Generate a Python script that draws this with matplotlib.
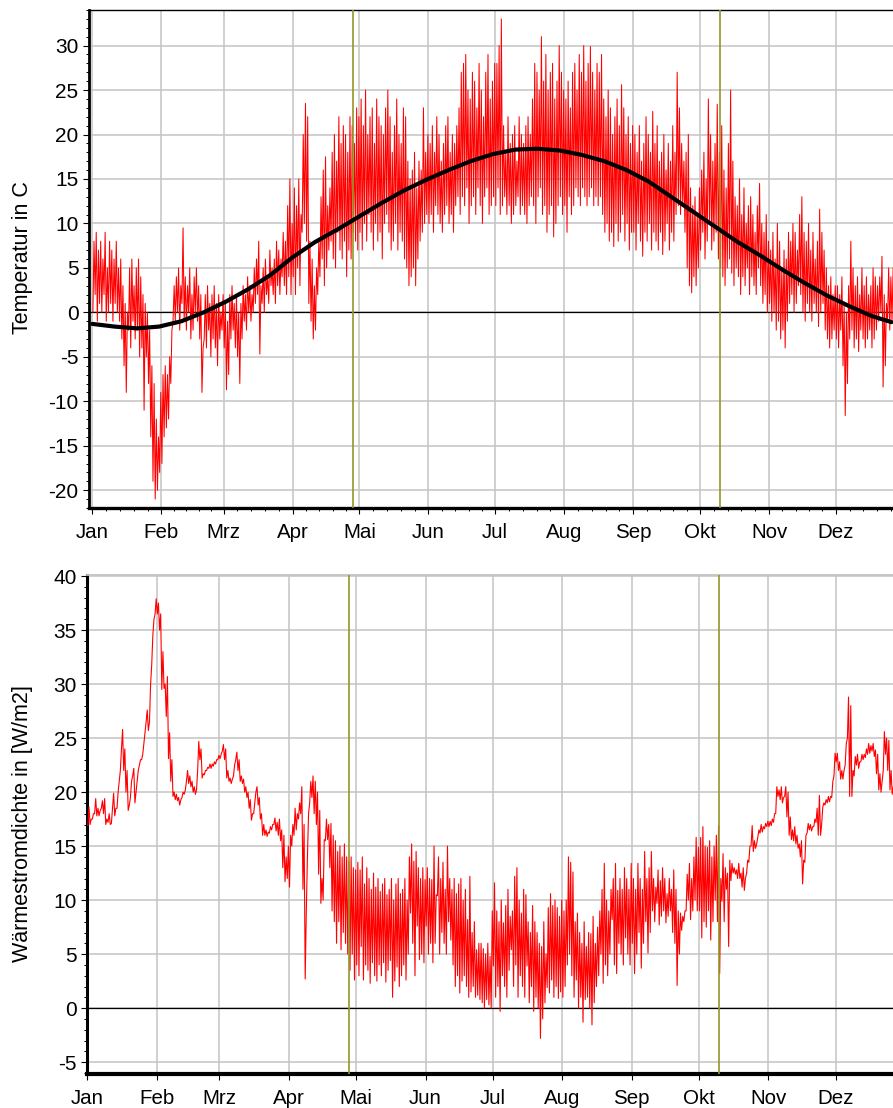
import matplotlib.pyplot as plt
import numpy as np
from matplotlib.ticker import MultipleLocator, FixedLocator

plt.rcParams['font.family'] = ['Liberation Sans', 'DejaVu Sans']
plt.rcParams['axes.unicode_minus'] = False

# --- calendar ---
months = ['Jan', 'Feb', 'Mrz', 'Apr', 'Mai', 'Jun', 'Jul', 'Aug', 'Sep', 'Okt', 'Nov', 'Dez']
month_start = [0, 31, 59, 90, 120, 151, 181, 212, 243, 273, 304, 334]
month_len = [31, 28, 31, 30, 31, 30, 31, 31, 30, 31, 30, 31]

# --- daily max / min air temperature [C] (day 0 = 1 Jan) ---
temp_hi = (
    [8, 9, 7, 8, 6, 9, 5, 8, 7, 6, 8, 5, 6, 3, 1, 0, 5, 6, 3, 5, 6, 4, 2, 1, 0, -2, -6, -8, -12, -14, -9]
    + [-7, -6, -7, -5, -2, 3, 4, 5, 3, 9.5, 4, 3, 5, 2, 4, 5, 3, 2, -4, 2, 3, 1, 2, 3, 1, 2, 0, 2]
    + [1, -1, 2, 3, 1, 2, 0, 1, 3, 2, 4, 3, 2, 5, 6, 8, 3, 5, 6, 4, 7, 5, 6, 8, 7, 6, 9, 8, 12, 15, 10]
    + [14, 12, 15, 11, 20, 23.5, 22, 8, 6, 3, 5, 8, 13, 16, 17.5, 12, 14, 18, 20, 17, 22, 19, 21, 20, 18, 22, 21, 19, 23, 22]
    + [24, 21, 25, 20, 22, 23, 19, 24, 22, 21, 20, 23, 25, 22, 18, 21, 24, 20, 19, 23, 22, 17, 15, 16, 18, 14, 17, 16, 23, 18, 20]
    + [19, 21, 18, 22, 20, 17, 19, 21, 22, 18, 20, 19, 21, 23, 27, 28, 29, 25, 24, 27, 26, 23, 28, 25, 22, 27, 29, 24, 26, 28]
    + [28, 30, 33, 21, 18, 22, 19, 20, 21, 17, 22, 20, 19, 21, 22, 20, 24, 28, 27, 25, 31, 26, 29, 25, 27, 28, 24, 26, 30, 27, 25]
    + [24, 26, 23, 27, 28, 25, 29, 27, 30, 26, 28, 29.9, 27, 25, 28, 27, 29, 24, 22, 25, 23, 20, 22, 24, 21, 25.6, 23, 20, 22, 19, 21]
    + [20, 18, 21, 17, 19, 22, 20, 18, 22.6, 19, 21, 17, 18, 20, 16, 19, 17, 21, 18, 27, 23, 19, 17, 18, 20, 14, 12, 13, 11, 14]
    + [16, 18, 15, 24, 20, 17, 19, 23.4, 18, 21, 16, 14, 19, 25, 17, 13, 12, 15, 11, 14, 10, 12, 13, 11, 9, 12, 14.5, 10, 9, 11, 8]
    + [7, 9, 6, 10, 8, 5, 7, 6, 9, 8, 10, 9, 7, 11, 13, 9, 8, 10, 7, 9, 6, 8, 11.6, 9, 7, 5, 3, 4, 2, 3]
    + [3, 2, 4, 1, 0, 3, 8, 5, 3, 4, 2, 5, 3, 4, 2, 3, 5, 4, 3, 4, 6.3, 2, 1, 5, 4, 5]
)
temp_lo = (
    [0, 2, -1, 1, 0, 2, -1, 0, 1, -1, 1, 0, -1, -3, -6, -9, -2, -4, -1, -3, -2, -5, -4, -11, -5, -8, -14, -19, -21, -20, -18]
    + [-17, -14, -13, -12, -8, -1, -1, 0, -2, 1, -1, -2, 0, -3, -2, 0, -1, -3, -9, -3, -4, -2, -5, -3, -4, -6, -3, -2]
    + [-4, -8.7, -7, -3, -2, -4, -5, -8, -3, -1, -2, 0, -1, 0, 1, 2, -4.7, 1, 0, 2, 1, 3, 2, 1, 3, 2, 4, 3, 2, 4, 2]
    + [4, 2, 5, 3, 9, 10, 8, 1, -1, -3, -2, 2, 4, 6, 3, 5, 7, 8, 6, 5, 9, 7, 6, 8, 4, 7, 6, 9, 8, 7]
    + [9, 7, 10, 8, 11, 9, 7, 10, 8, 9, 6, 10, 11, 9, 7, 8, 10, 7, 9, 8, 6, 5, 3, 4, 5, 3, 6, 8, 9, 10, 11]
    + [10, 11, 9, 12, 11, 10, 9, 11, 12, 10, 11, 9, 12, 13, 11, 13, 12, 14, 10, 12, 13, 11, 14, 12, 10, 13, 14, 11, 12, 13]
    + [12, 14, 11, 12, 13, 11, 12, 10, 11, 12, 13, 11, 12, 11, 10, 12, 13, 12, 10, 13, 14, 11, 12, 9, 11, 12, 8.5, 10, 12, 13, 11]
    + [12, 9, 13, 11, 12, 14, 13, 12, 14, 13, 12, 13, 14, 12, 13, 12, 13, 11, 9, 10, 8, 9, 7.4, 10, 8, 9, 11, 8, 10, 7, 9]
    + [9, 7, 10, 8, 6.3, 9, 8, 10, 7, 9, 8, 7, 9, 6.5, 8, 10, 7, 9, 8, 11, 12, 11, 12, 9, 5, 3, 2.2, 4, 3, 5]
    + [7, 9, 6, 8, 10, 7, 8, 9, 6, 5, 4, 3, 5, 6, 4.4, 3, 5, 4, 2, 4, 3, 5, 2, 4, 3, 2, 5, 3, 1, 2, 0]
    + [1, -1, 0, -2, -1, -3, -2, -4, -1, 1, 2, 0, 1, 3, 2, 0, -1, 1, 0, -1, 1, 0, -1.6, 0, 1, -2, -3, -4, -3, -2]
    + [-3, -4, -2, -6, -11.6, -8, -3, -2, -4, -3, -4.4, -2, -3, -4, -3, -2, -4, -3, -2, -1, 0, -8.4, -6, -1, -2, -1]
)

# smooth seasonal temperature curve (black)
trend_days = [0, 10, 20, 30, 40, 50, 60, 70, 80, 90, 100, 110, 120, 130, 140, 150, 160, 170, 180,
              190, 200, 210, 220, 230, 240, 250, 260, 270, 280, 290, 300, 310, 320, 330, 340, 350, 359]
trend_temp = [-1.3, -1.6, -1.8, -1.6, -1.0, 0.0, 1.2, 2.6, 4.2, 6.2, 7.9, 9.3, 10.8, 12.3, 13.7, 14.9, 16.0, 17.0, 17.8,
              18.3, 18.4, 18.2, 17.7, 17.0, 16.0, 14.7, 13.0, 11.3, 9.6, 7.9, 6.4, 4.8, 3.3, 1.9, 0.7, -0.4, -1.1]

# --- daily max / min heat flux density [W/m2] (lower panel) ---
flux_hi = (
    [18.6, 17.5, 18, 19.4, 18.5, 18.3, 19.2, 19.4, 17.5, 18, 17.1, 19.9, 18.5, 20, 22, 25.8, 24, 22, 18.8, 21,
     22.2, 20, 22, 23, 23.5, 25.5, 27.6, 26.5, 31.8, 36, 37.9]
    + [37.5, 36.5, 33, 30, 30.7, 25.5, 23, 20, 19.8, 19.5, 19.3, 20, 20.2, 22, 21.5, 21, 20.5, 20.2, 24.7, 24,
       21.7, 22, 22.3, 22.6, 22.6, 22.8, 23, 23.4]
    + [23.5, 24.4, 24, 22, 21.3, 21.2, 22.5, 23.7, 23, 21.5, 21.2, 20.5, 20, 19.3, 18, 19, 20.5, 19.5, 18, 17,
       16.5, 16.3, 16.8, 17, 17.6, 17.2, 17.5, 16.5, 16, 14, 15]
    + [16, 17, 18.5, 18, 19, 20.5, 17, 9, 18, 21, 21.5, 21, 20, 18.3, 12, 15.6, 17.5, 17, 17.1, 16,
       15.5, 14.5, 15, 14, 15.2, 14, 13.6, 14, 13, 12.8]
    + [13.5, 12.8, 14, 11.5, 13, 12, 11, 12.5, 11.2, 12, 10.8, 11.5, 12, 10.5, 11, 12, 10, 11.5, 12, 10.6,
       11, 12, 10, 14, 15.2, 13.6, 14.5, 13, 12, 13, 11.9]
    + [13, 12, 11.9, 15, 10.5, 14, 12, 13.5, 11, 15, 12, 11, 12, 10.6, 11.5, 12, 10, 11, 8.2, 12.2,
       7, 8, 5.4, 6, 6, 5.5, 5, 6, 4.8, 9]
    + [11.6, 9, 8, 10, 7.9, 9.5, 11, 8.5, 9, 12.2, 13, 10, 8.8, 11, 10.5, 8, 7, 9.5, 8, 7,
       6, 5.7, 8, 5, 9.3, 10.6, 9.5, 10, 9.3, 8.5, 10]
    + [9, 10, 14, 13.5, 12.6, 8, 8.8, 7, 6, 8, 5.7, 7, 6.9, 8.5, 6, 7.5, 9, 11, 13.4, 10,
       9, 11, 12, 13.4, 10.9, 12, 11, 13, 12, 11, 13.4]
    + [12, 11, 13.4, 12, 11, 14.5, 12, 13, 14.5, 12, 11.2, 12.8, 11.8, 13, 12, 10.6, 12, 11, 12.8, 11,
       9, 8.8, 8.5, 9, 12.4, 13.4, 12, 14, 15.8, 14.9]
    + [15.8, 16.8, 15, 14.9, 15.5, 14, 15, 16, 16.9, 12, 14.3, 13, 12.5, 13.7, 13.4, 13, 12.8, 13.4, 12.5, 13,
       12, 13.7, 15, 16.9, 15.5, 15.2, 16.5, 17, 16.8, 17.1, 17.3]
    + [17.3, 17.5, 18, 20.5, 20.2, 20.5, 19.5, 20.5, 20, 17.7, 16.5, 16.8, 16, 15.2, 15.5, 13.7, 16, 17.1, 17, 16.8,
       17.5, 18.5, 19.7, 17, 19, 19.3, 19.6, 19.6, 21, 23.6]
    + [23.6, 22.8, 22, 22, 24.5, 28.8, 28, 22, 23.3, 23.5, 22.8, 23.5, 23.5, 24, 24.5, 24.3, 24.5, 23.9, 23.5, 21.7,
       21, 25.6, 25, 24.8, 22, 20.5]
)
flux_lo = (
    [16.9, 17, 17.5, 18, 17.8, 17.8, 18.5, 18, 17, 17.2, 17, 18.5, 17.8, 18.5, 21, 24, 22, 20, 18.3, 19.5,
     21.5, 19, 21, 22.5, 23, 24.5, 26.5, 25.7, 30, 34.5, 36.5]
    + [36.5, 35, 29.5, 29.6, 27, 23.1, 21, 19.6, 19.3, 19.2, 18.8, 19.5, 19.8, 21, 20.8, 20.5, 20, 19.8, 22, 23,
       21.3, 21.6, 22, 22.2, 22.2, 22.4, 22.6, 23]
    + [23.1, 23.8, 23, 21.3, 21, 20.8, 21.5, 23, 22, 21, 20.8, 20, 19.5, 18.5, 17.4, 18, 20, 18.8, 17.5, 16,
       16, 15.9, 16.2, 16.5, 17, 16.4, 16, 15.5, 13, 11.7, 12]
    + [11.2, 15, 16, 16.5, 17.5, 18, 11, 2.7, 14, 19, 19.5, 18, 17, 12.4, 9.7, 10, 15.5, 15.6, 13, 9,
       8, 6, 8, 5.4, 7, 6, 5, 3.5, 5, 2.6]
    + [4, 3, 5.7, 2.6, 4, 3.5, 2.3, 4.2, 3, 2.5, 4, 3, 4.2, 2.4, 3.5, 4.4, 1, 2.5, 3.8, 2,
       3, 4, 2.6, 5, 8.8, 6, 3, 7.6, 4.5, 5, 4.2]
    + [7.6, 5, 6, 4.2, 6, 10.4, 5, 7, 6, 5, 8, 6.3, 4, 2, 3, 1.4, 2.5, 3, 2, 1,
       1.5, 2, 1, 1.2, 0.8, 0.5, 0, 0.8, 0.3, 0]
    + [3.9, 1, 2, -0.3, 3, 2, 1, 3.5, 5.4, 2, 4, 1, 3, 2, 1, 3.9, 0.5, 2, -0.3, 1,
       0, -2.8, -1, 0.5, 1.9, 1.4, 2.6, 1, 2, 0.9, 1.5]
    + [1, 2, 4, 5, 3, 1, 2.6, 0, 1, -1.3, 0.8, 1, 0, -1.55, 0.5, 2, 3, 5, 2.3, 4,
       3, 5, 8.2, 4, 3.2, 6, 5, 4, 6.5, 5, 4]
    + [6, 3.2, 5, 7, 3.7, 6, 8, 5.1, 7, 9, 8, 9.7, 7.7, 8.5, 9, 7.9, 8.5, 9, 7, 6,
       2.1, 5, 7.2, 8, 9, 10, 8.2, 9, 10, 9]
    + [9, 6.5, 8, 7.5, 9, 6.3, 8, 10, 8, 3.2, 9.9, 8, 11, 5.7, 11.8, 12.5, 12.4, 12, 12, 11.2,
       10.9, 12.5, 13.5, 15, 14.5, 14.8, 15.8, 16.2, 16.3, 16.6, 16.8]
    + [16.8, 16.9, 17.2, 18, 19.6, 19.3, 19, 19.6, 17.7, 16, 15.6, 15.5, 15.2, 14.8, 14, 11.5, 13.5, 16.2, 16.5, 16.4,
       16.8, 17.2, 16, 16, 18.6, 18.8, 19, 19.1, 19.5, 21.5]
    + [22.8, 22, 21.2, 21.2, 22.5, 25, 19.6, 19.6, 21.5, 22.5, 22.2, 22.8, 23, 23.2, 23.5, 23.6, 23.8, 23.3, 21.7, 20.2,
       20, 22, 23.5, 22, 20.2, 19.8]
)

# olive marker lines (days)
marker_days = [117, 282]


def daily_zigzag(lo, hi):
    n = len(lo)
    x = np.repeat(np.arange(n), 2) + np.tile([0.25, 0.75], n)
    y = np.column_stack([lo, hi]).ravel()
    return x, y


GRID = '#c4c4c4'
OLIVE = '#979528'

fig = plt.figure(figsize=(8.93, 11.08), dpi=100)
ax1 = fig.add_axes([89 / 893, 600 / 1108, 804 / 893, 498 / 1108])
ax2 = fig.add_axes([87.3 / 893, 34 / 1108, 805.7 / 893, 499 / 1108])

# --- upper panel: temperature ---
tx, ty = daily_zigzag(temp_lo, temp_hi)
ax1.axhline(0, color='black', lw=0.9, zorder=2)
ax1.plot(tx, ty, color='red', lw=0.75, zorder=3)
for d in marker_days:
    ax1.axvline(d, color=OLIVE, lw=1.2, zorder=4)
ax1.plot(trend_days, trend_temp, color='black', lw=3.0, zorder=5, solid_capstyle='round')
ax1.set_xlim(-1.5, 359.7)
ax1.set_ylim(-22, 34)
ax1.yaxis.set_major_locator(MultipleLocator(5))
ax1.yaxis.set_minor_locator(MultipleLocator(1))
ax1.xaxis.set_major_locator(FixedLocator(month_start))
minor1 = [s + k * l / 5 for s, l in zip(month_start, month_len) for k in range(1, 5)]
ax1.xaxis.set_minor_locator(FixedLocator(minor1))

# --- lower panel: heat flux ---
fx, fy = daily_zigzag(flux_lo, flux_hi)
ax2.axhline(0, color='black', lw=0.9, zorder=2)
ax2.plot(fx, fy, color='red', lw=0.8, zorder=3)
for d in marker_days:
    ax2.axvline(d, color=OLIVE, lw=1.2, zorder=4)
ax2.set_xlim(0, 359.6)
ax2.set_ylim(-6.1, 40.1)
ax2.yaxis.set_major_locator(MultipleLocator(5))
ax2.yaxis.set_minor_locator(MultipleLocator(1))
ax2.xaxis.set_major_locator(FixedLocator(month_start))

for ax in (ax1, ax2):
    ax.set_xticklabels(months)
    ax.grid(True, which='major', color=GRID, lw=1.1, zorder=0)
    ax.set_axisbelow(True)
    ax.tick_params(axis='y', which='major', direction='out', length=4.5, width=0.8,
                   labelsize=15, pad=3)
    ax.tick_params(axis='y', which='minor', direction='out', length=2.5, width=0.7)
    ax.tick_params(axis='x', which='major', direction='out', length=4.5, width=0.8,
                   labelsize=14.8, pad=6)
    ax.tick_params(axis='x', which='minor', direction='out', length=2.5, width=0.7)
    ax.spines['right'].set_visible(False)

ax1.spines['left'].set_linewidth(2.0)
ax1.spines['bottom'].set_linewidth(2.4)
ax1.spines['top'].set_linewidth(1.0)
ax2.spines['left'].set_linewidth(2.2)
ax2.spines['bottom'].set_linewidth(3.0)
ax2.spines['top'].set_color(GRID)
ax2.spines['top'].set_linewidth(1.3)

fig.text(23 / 893, 1 - 258 / 1108, 'Temperatur in C', rotation=90,
         ha='center', va='center', fontsize=15.5)
fig.text(23 / 893, 1 - 824 / 1108, 'Wärmestromdichte in [W/m2]', rotation=90,
         ha='center', va='center', fontsize=15.5)

fig.savefig('out.png', dpi=100)
